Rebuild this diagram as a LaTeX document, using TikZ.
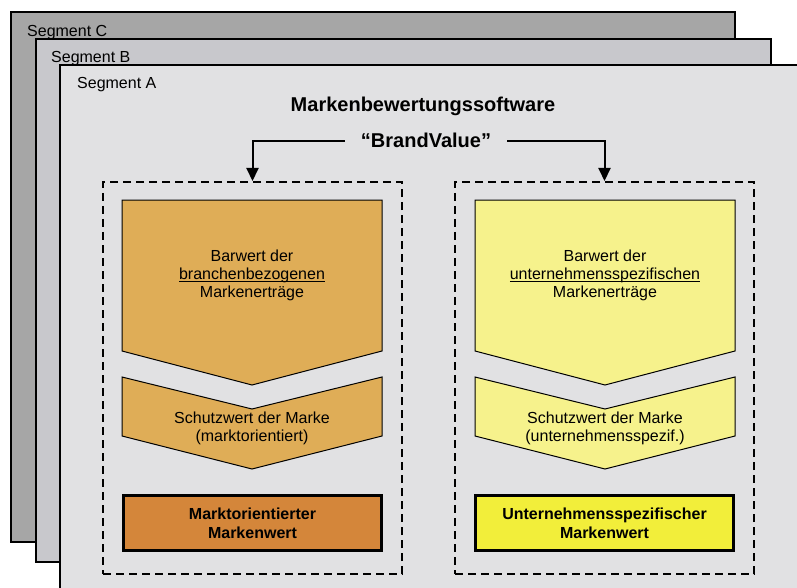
\documentclass[tikz,border=0pt]{standalone}
\usepackage{fontspec}
\setmainfont{Liberation Sans}
\usetikzlibrary{arrows.meta,positioning}

\definecolor{segC}{HTML}{A6A6A6}
\definecolor{segB}{HTML}{C8C8CC}
\definecolor{segA}{HTML}{E1E1E3}
\definecolor{chevL}{HTML}{DFAD57}
\definecolor{valueL}{HTML}{D4863A}
\definecolor{chevR}{HTML}{F6F28C}
\definecolor{valueR}{HTML}{F2EE3A}

% underline just under the baseline
\newcommand{\markline}[1]{\setbox0\hbox{#1}\rlap{\rule[-3pt]{\wd0}{1.4pt}}\box0}

\begin{document}
\begin{tikzpicture}[
  x=1pt,y=-1pt,
  >={Triangle[length=13pt,width=12pt]},
  segment/.style={draw,line width=1.5pt},
  seglabel/.style={anchor=base west,inner sep=0pt,font=\fontsize{16}{18}\selectfont},
  heading/.style={font=\bfseries\fontsize{20}{24}\selectfont},
  group/.style={draw,line width=2pt,dash pattern=on 8pt off 5pt,minimum width=299pt,minimum height=392pt},
  chevron/.style={draw,line width=1pt},
  chevtext/.style={align=center,font=\fontsize{16}{18}\selectfont},
  result/.style={draw,line width=3pt,minimum width=258pt,minimum height=55pt,align=center,
    font=\bfseries\fontsize{16}{19}\selectfont},
  flow/.style={->,line width=2pt}
]
  \clip (0,0) rectangle (797,588);

  % stacked segments
  \draw[segment,fill=segC] (11,12) rectangle (735,542);
  \node[seglabel] (segCtext) at (27,37) {Segment C};
  \draw[segment,fill=segB] (36,39) rectangle (771,562);
  \node[seglabel] (segBtext) at (51,63) {Segment B};
  \draw[segment,fill=segA] (60,65) rectangle (810,600);
  \node[seglabel] (segAtext) at (77,89) {Segment A};

  \node[heading,anchor=base] (software) at (423,112) {Markenbewertungssoftware};
  \node[heading,anchor=base,inner xsep=16pt] (brand) at (426,148) {“BrandValue”};

  \node[group] (marketbox) at (252.5,378) {};
  \node[group] (firmbox) at (604.5,378) {};

  \draw[flow] (brand.west) -| (marketbox.north);
  \draw[flow] (brand.east) -| (firmbox.north);

  % left column
  \draw[chevron,fill=chevL] (122,200) -- (382,200) -- (382,351) -- (252,385) -- (122,351) -- cycle;
  \node[chevtext] (barwertL) at (252,275) {Barwert der\\\markline{branchenbezogenen}\\Markenerträge};
  \draw[chevron,fill=chevL] (122,377) -- (252,409) -- (382,377) -- (382,436) -- (252,469) -- (122,436) -- cycle;
  \node[chevtext] (schutzL) at (252,428) {Schutzwert der Marke\\(marktorientiert)};
  \node[result,fill=valueL] (wertL) at (252.5,523) {Marktorientierter\\Markenwert};

  % right column
  \draw[chevron,fill=chevR] (475,200) -- (735,200) -- (735,351) -- (605,385) -- (475,351) -- cycle;
  \node[chevtext] (barwertR) at (605,275) {Barwert der\\\markline{unternehmensspezifischen}\\Markenerträge};
  \draw[chevron,fill=chevR] (475,377) -- (605,409) -- (735,377) -- (735,436) -- (605,469) -- (475,436) -- cycle;
  \node[chevtext] (schutzR) at (605,428) {Schutzwert der Marke\\(unternehmensspezif.)};
  \node[result,fill=valueR] (wertR) at (604.5,523) {Unternehmensspezifischer\\Markenwert};
\end{tikzpicture}
\end{document}
